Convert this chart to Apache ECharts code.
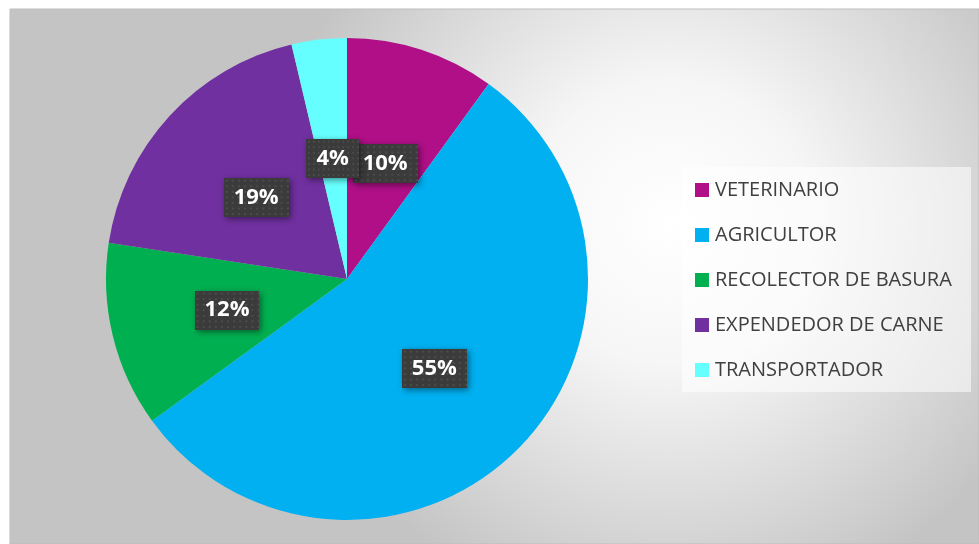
<!DOCTYPE html>
<html><head><meta charset="utf-8">
<script src="https://cdn.jsdelivr.net/npm/echarts@6/dist/echarts.min.js"></script>
<style>html,body{margin:0;padding:0;background:#fff}#c{width:979px;height:544px}</style>
</head><body><div id="c"></div>
<script>
const categories = ['VETERINARIO','AGRICULTOR','RECOLECTOR DE BASURA','EXPENDEDOR DE CARNE','TRANSPORTADOR'];
const values = [10.0, 55.0, 12.4, 18.9, 3.7];
const colors = ['#B00F88','#00B0F0','#00B050','#7030A0','#66FFFF'];

function dotPattern(w,h){
  const c=document.createElement('canvas'); c.width=w; c.height=h;
  const g=c.getContext('2d'); g.fillStyle='#3b3b3b'; g.fillRect(0,0,w,h);
  g.fillStyle='#4d4d4d';
  for(let y=2;y<h;y+=6) for(let x=2;x<w;x+=6) g.fillRect(x,y,2,2);
  return c;
}
const pat = dotPattern(64,42);

const chart = echarts.init(document.getElementById('c'), null, {renderer:'canvas'});
const FONT = '"Open Sans", "Noto Sans", sans-serif';
chart.setOption({
  animation:false,
  graphic:[
    {type:'rect', z:-10, shape:{x:10,y:9,width:969,height:535},
     style:{fill:{type:'radial',x:0.68,y:0.4,r:0.75,colorStops:[{offset:0,color:'#ffffff'},{offset:0.35,color:'#f6f6f6'},{offset:1,color:'#c4c4c4'}]}, stroke:'#bdbdbd', lineWidth:1}},
    {type:'rect', z:-5, shape:{x:682,y:167,width:289,height:225},
     style:{fill:'rgba(255,255,255,0.55)'}}
  ],
  legend:{
    orient:'vertical', left:690, top:175,
    itemWidth:14, itemHeight:14, itemGap:25, icon:'rect',
    textStyle:{fontFamily:FONT, fontSize:20, lineHeight:20, color:'#404040', padding:[0,0,0,1]},
    data:categories
  },
  series:[{
    type:'pie', center:[347,279], radius:241, startAngle:90, clockwise:true,
    avoidLabelOverlap:false,
    color:colors,
    label:{
      show:true,
      position:'inside',
      formatter:p=>Math.round(p.percent)+'%',
      fontFamily:FONT, fontSize:22, fontWeight:'bold', color:'#fff',
      backgroundColor:{image:pat}, padding:[9,10,8,10], offset:[0,2],
      shadowColor:'rgba(0,0,0,0.45)', shadowBlur:6, shadowOffsetX:2, shadowOffsetY:2
    },
    labelLayout:{hideOverlap:false},
    labelLine:{show:false},
    emphasis:{disabled:true},
    data:categories.map((n,i)=>({name:n,value:values[i]}))
  }]
});
</script></body></html>
